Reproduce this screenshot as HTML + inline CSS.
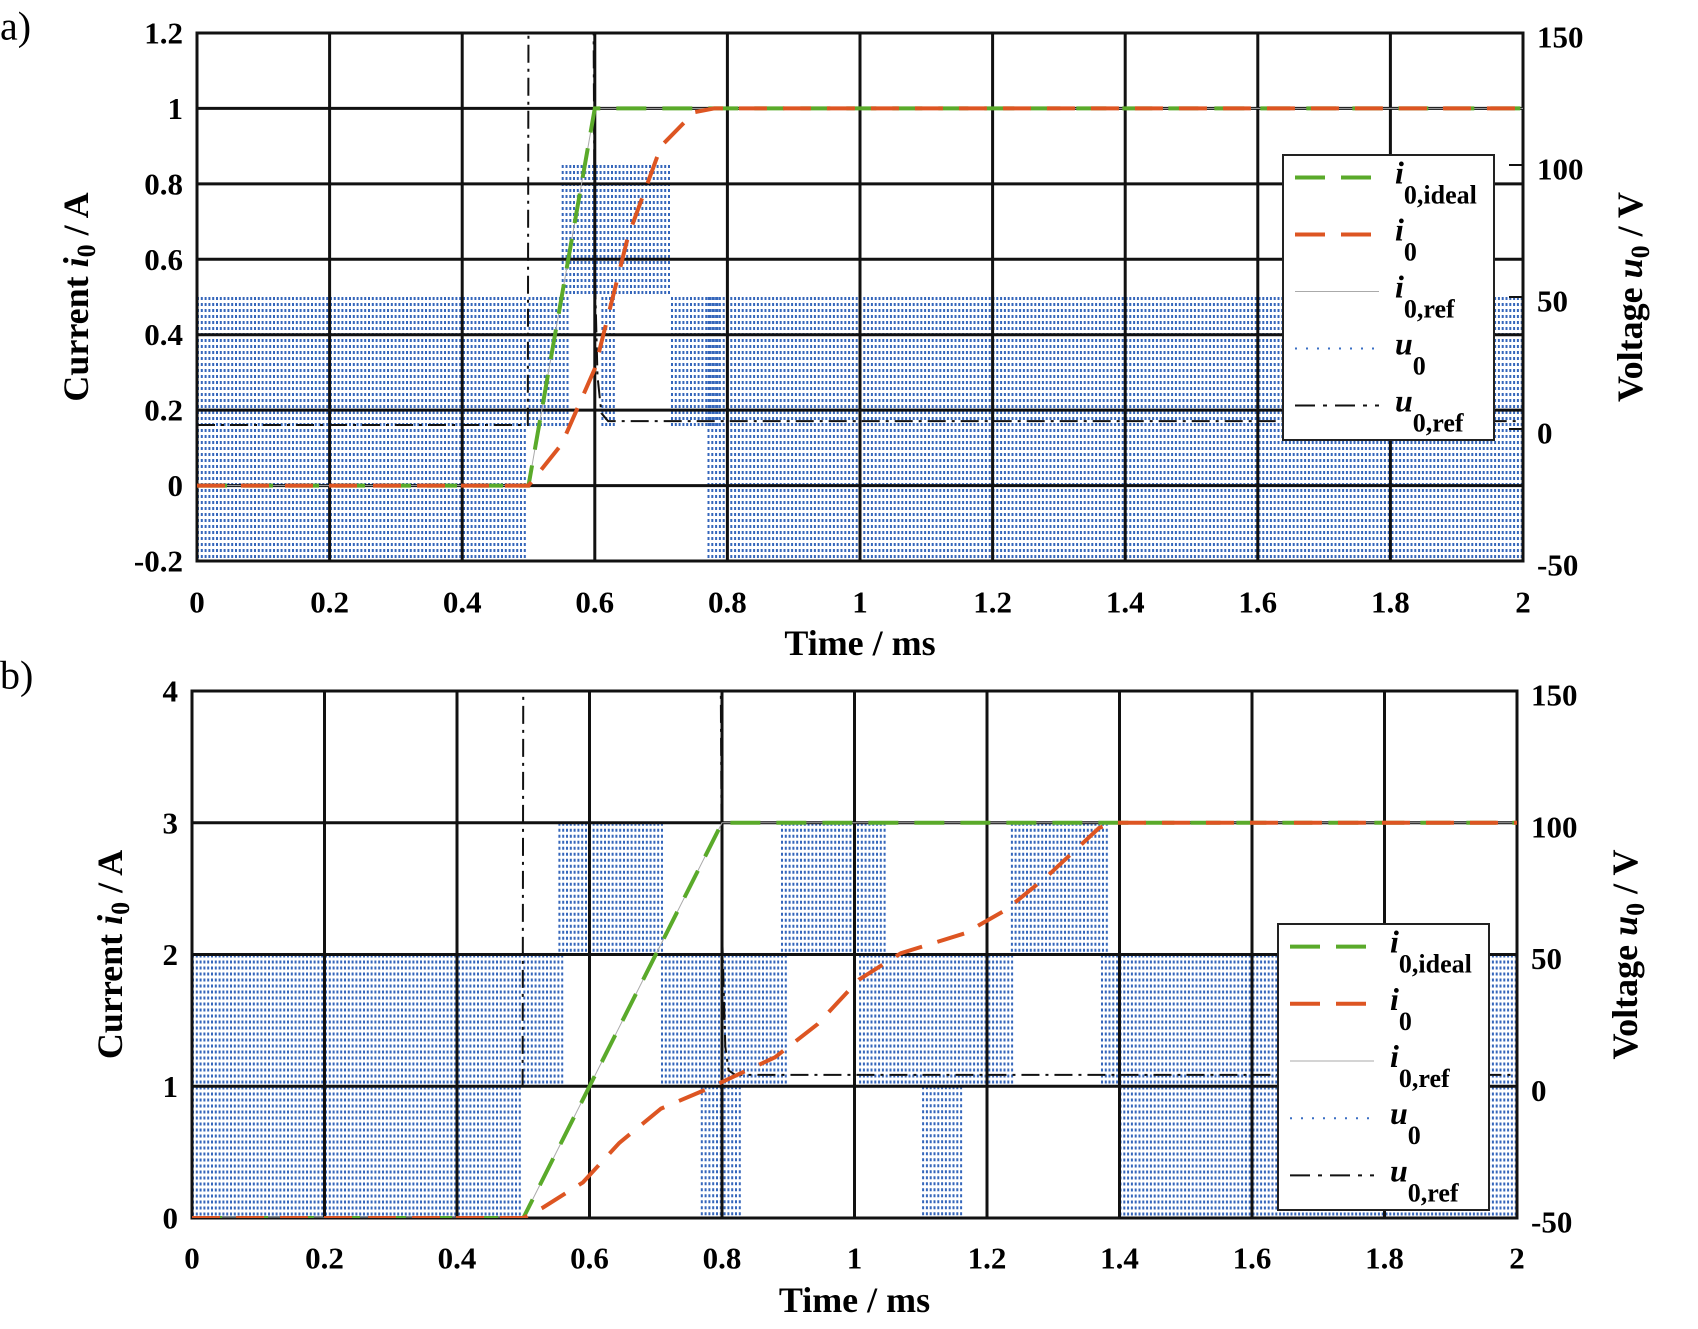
<!DOCTYPE html>
<html><head><meta charset="utf-8"><style>
html,body{margin:0;padding:0;background:#fff;}
svg{display:block;font-family:"Liberation Serif",serif;font-weight:bold;}
</style></head><body>
<svg id="chart" width="1698" height="1329" viewBox="0 0 1698 1329" xmlns="http://www.w3.org/2000/svg">
<g id="layer"></g>
</svg>
<script>
// ---------- data: panel a ----------
const timeTicks = [0,0.2,0.4,0.6,0.8,1,1.2,1.4,1.6,1.8,2];
const timeTickLabels = ["0","0.2","0.4","0.6","0.8","1","1.2","1.4","1.6","1.8","2"];
const aCurTicks = [-0.2,0,0.2,0.4,0.6,0.8,1,1.2];
const aCurTickLabels = ["-0.2","0","0.2","0.4","0.6","0.8","1","1.2"];
const aVoltTicks = [-50,0,50,100,150];
const aVoltTickLabels = ["-50","0","50","100","150"];
const aIdealT = [0,0.5,0.6,2];
const aIdealI = [0,0,1,1];
const aI0T = [0,0.5,0.55,0.6,0.65,0.7,0.75,0.78,2];
const aI0I = [0,0,0.11,0.31,0.66,0.9,0.99,1,1];
const aUrefT = [0,0.499,0.5,0.598,0.6,0.604,0.61,0.62,2];
const aUrefV = [1.5,1.5,160,160,60,20,6,3,3];
// u0 PWM blocks: start time, end time, low V, high V
const aPwmStart = [0,0.5,0.55,0.61,0.715,0.77];
const aPwmEnd   = [0.5,0.56,0.715,0.63,0.79,2];
const aPwmLow   = [-50,0,50,0,0,-50];
const aPwmHigh  = [50,50,100,50,50,50];

// ---------- data: panel b ----------
const bCurTicks = [0,1,2,3,4];
const bCurTickLabels = ["0","1","2","3","4"];
const bVoltTicks = [-50,0,50,100,150];
const bVoltTickLabels = ["-50","0","50","100","150"];
const bIdealT = [0,0.5,0.8,2];
const bIdealI = [0,0,3,3];
const bI0T = [0,0.5,0.53,0.59,0.645,0.708,0.778,0.88,0.944,1.007,1.07,1.166,1.229,1.292,1.369,1.39,2];
const bI0I = [0,0,0.08,0.27,0.57,0.83,0.98,1.22,1.47,1.81,2.01,2.16,2.34,2.6,2.96,3,3];
const bUrefT = [0,0.499,0.5,0.798,0.8,0.805,0.81,0.82,2];
const bUrefV = [0,0,160,160,60,15,6,4.3,4.3];
const bPwmStart = [0,0.5,0.553,0.708,0.768,0.803,0.889,1.007,1.102,1.236,1.372,1.4];
const bPwmEnd   = [0.5,0.562,0.714,0.8,0.832,0.898,1.046,1.242,1.166,1.381,1.4,2];
const bPwmLow   = [-50,0,50,0,-50,0,50,0,-50,50,0,-50];
const bPwmHigh  = [50,50,100,50,0,50,100,50,0,100,50,50];

const NS = "http://www.w3.org/2000/svg";
const layer = document.getElementById('layer');
function mk(tag, attrs, parent){
  const e = document.createElementNS(NS, tag);
  for (const k in attrs) e.setAttribute(k, attrs[k]);
  (parent||layer).appendChild(e);
  return e;
}

function panel(p){
  const g = mk('g', {});
  
  
  const X = t => p.x0 + (t - 0) / 2 * (p.x1 - p.x0);
  const Y = v => p.y1 - (v - p.cmin) / (p.cmax - p.cmin) * (p.y1 - p.y0);
  const YV = v => p.y1 - (v - p.vmin) / (p.vmax - p.vmin) * (p.y1 - p.y0);
  const clipId = 'clip-' + p.name;
  const defs = mk('defs', {}, g);
  const cp = mk('clipPath', {id: clipId}, defs);
  mk('rect', {x:p.x0, y:p.y0, width:p.x1-p.x0, height:p.y1-p.y0}, cp);

  // PWM u0 (blue dotted)
  const pwm = mk('g', {'clip-path':'url(#'+clipId+')'}, g);
  
  
  for (let i = 0; i < p.pwmStart.length; i++){
    const xa = X(p.pwmStart[i]), xb = X(p.pwmEnd[i]);
    const ya = YV(p.pwmHigh[i]), yb = YV(p.pwmLow[i]);
    let d = '';
    for (let x = xa + 1; x <= xb; x += 3.8) d += 'M' + x.toFixed(1) + ' ' + ya.toFixed(1) + 'V' + yb.toFixed(1);
    const path = mk('path', {d:d, stroke:'#3566bb', 'stroke-width':2, 'stroke-dasharray':'3 3', fill:'none'}, pwm);
    
    
  }

  // grid
  const grid = mk('g', {stroke:'#111', 'stroke-width':3}, g);
  
  
  p.timeTicks.forEach(t => mk('line', {x1:X(t), x2:X(t), y1:p.y0, y2:p.y1}, grid));
  p.curTicks.forEach(v => mk('line', {x1:p.x0, x2:p.x1, y1:Y(v), y2:Y(v)}, grid));
  const frame = mk('rect', {x:p.x0, y:p.y0, width:p.x1-p.x0, height:p.y1-p.y0, fill:'none', stroke:'#111', 'stroke-width':3}, g);
  
  
  p.voltTicks.forEach(v => mk('line', {x1:p.x1-14, x2:p.x1, y1:YV(v), y2:YV(v), stroke:'#111', 'stroke-width':2}, g));

  const lines = mk('g', {'clip-path':'url(#'+clipId+')', fill:'none'}, g);
  function poly(ts, vs, yf){ return ts.map((t,i)=>(i?'L':'M')+X(t).toFixed(1)+' '+yf(vs[i]).toFixed(1)).join(''); }
  const uref = mk('path', {d:poly(p.urefT,p.urefV,YV), stroke:'#111', 'stroke-width':2, 'stroke-dasharray':'18 6 3 6'}, lines);
  
  
  const iref = mk('path', {d:poly(p.idealT,p.idealI,Y), stroke:'#aaa', 'stroke-width':1}, lines);
  
  
  const ideal = mk('path', {d:poly(p.idealT,p.idealI,Y), stroke:'#5aaa2a', 'stroke-width':4, 'stroke-dasharray':'30 16'}, lines);
  
  
  const i0 = mk('path', {d:poly(p.i0T,p.i0I,Y), stroke:'#dd5522', 'stroke-width':4, 'stroke-dasharray':'28 16'}, lines);
  
  

  p.timeTicks.forEach((t,i)=>{
    const e = mk('text', {x:X(t), y:p.xTickY, 'font-size':31, 'text-anchor':'middle', 'dominant-baseline':'central'}, g);
    e.textContent = p.timeTickLabels[i];
    
    
  });
  p.curTicks.forEach((v,i)=>{
    const e = mk('text', {x:p.x0-14, y:Y(v), 'font-size':31, 'text-anchor':'end', 'dominant-baseline':'central'}, g);
    e.textContent = p.curTickLabels[i];
    
    
  });
  p.voltTicks.forEach((v,i)=>{
    const e = mk('text', {x:p.x1+14, y:YV(v)+4, 'font-size':31, 'text-anchor':'start', 'dominant-baseline':'central'}, g);
    e.textContent = p.voltTickLabels[i];
    
    
  });
  const xt = mk('text', {x:(p.x0+p.x1)/2, y:p.xTitleY, 'font-size':36, 'text-anchor':'middle', 'dominant-baseline':'central'}, g);
  xt.textContent = 'Time / ms';
  
  
  const cy = (p.y0+p.y1)/2;
  const lt = mk('text', {transform:'translate('+p.lTitleX+','+cy+') rotate(-90)', 'font-size':36, 'text-anchor':'middle', 'dominant-baseline':'central'}, g);
  lt.innerHTML = 'Current <tspan font-style="italic">i</tspan><tspan font-size="26" dy="10">0</tspan><tspan dy="-10"> / A</tspan>';
  
  
  const rt = mk('text', {transform:'translate('+p.rTitleX+','+cy+') rotate(-90)', 'font-size':36, 'text-anchor':'middle', 'dominant-baseline':'central'}, g);
  rt.innerHTML = 'Voltage <tspan font-style="italic">u</tspan><tspan font-size="26" dy="10">0</tspan><tspan dy="-10"> / V</tspan>';
  
  
  const pl = mk('text', {x:0, y:p.labelY, 'font-size':40, 'font-weight':'normal', 'dominant-baseline':'central'}, g);
  pl.textContent = p.label;
  
  

  const L = p.leg;
  const lg = mk('g', {}, g);
  
  
  mk('rect', {x:L.x, y:L.y, width:L.w, height:L.h, fill:'#fff', stroke:'#222', 'stroke-width':2}, lg);
  const entries = [
    ['i','0,ideal',{stroke:'#5aaa2a','stroke-width':4,'stroke-dasharray':'30 16'}],
    ['i','0',{stroke:'#dd5522','stroke-width':4,'stroke-dasharray':'30 16'}],
    ['i','0,ref',{stroke:'#aaa','stroke-width':1}],
    ['u','0',{stroke:'#3a6fc4','stroke-width':2,'stroke-dasharray':'2 9'}],
    ['u','0,ref',{stroke:'#111','stroke-width':2,'stroke-dasharray':'20 8 4 8'}]
  ];
  const step = L.h / 5;
  entries.forEach((en,k)=>{
    const ey = L.y + step*(k+0.5) - 6;
    const e = mk('g', {}, lg);
    
    
    const a = Object.assign({x1:L.x+12, x2:L.x+96, y1:ey, y2:ey}, en[2]);
    mk('line', a, e);
    const t = mk('text', {x:L.x+112, y:ey+6, 'font-size':32}, e);
    t.innerHTML = '<tspan font-style="italic">'+en[0]+'</tspan><tspan font-size="26" dy="20">'+en[1]+'</tspan>';
  });
}

panel({name:'panel-a', label:'a)', labelY:26, x0:197, x1:1523, y0:33, y1:561,
  cmin:-0.2, cmax:1.2, vmin:-50, vmax:150,
  timeTicks, timeTickLabels, curTicks:aCurTicks, curTickLabels:aCurTickLabels,
  voltTicks:aVoltTicks, voltTickLabels:aVoltTickLabels,
  idealT:aIdealT, idealI:aIdealI, i0T:aI0T, i0I:aI0I, urefT:aUrefT, urefV:aUrefV,
  pwmStart:aPwmStart, pwmEnd:aPwmEnd, pwmLow:aPwmLow, pwmHigh:aPwmHigh,
  xTickY:602, xTitleY:643, lTitleX:76, rTitleX:1630,
  leg:{x:1283, y:155, w:211, h:285}});
panel({name:'panel-b', label:'b)', labelY:675, x0:192, x1:1517, y0:691, y1:1218,
  cmin:0, cmax:4, vmin:-50, vmax:150,
  timeTicks, timeTickLabels, curTicks:bCurTicks, curTickLabels:bCurTickLabels,
  voltTicks:bVoltTicks, voltTickLabels:bVoltTickLabels,
  idealT:bIdealT, idealI:bIdealI, i0T:bI0T, i0I:bI0I, urefT:bUrefT, urefV:bUrefV,
  pwmStart:bPwmStart, pwmEnd:bPwmEnd, pwmLow:bPwmLow, pwmHigh:bPwmHigh,
  xTickY:1258, xTitleY:1300, lTitleX:110, rTitleX:1625,
  leg:{x:1278, y:924, w:211, h:286}});
</script>
</body></html>
